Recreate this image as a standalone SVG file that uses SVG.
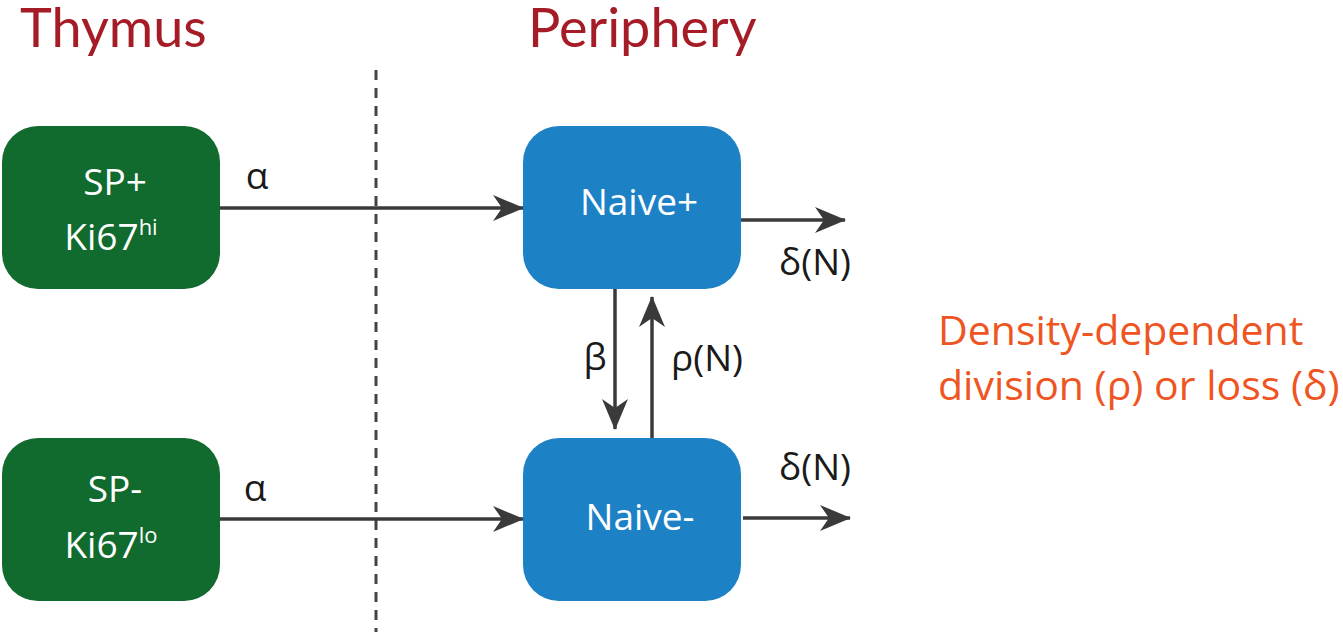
<svg xmlns="http://www.w3.org/2000/svg" width="1343" height="633" viewBox="0 0 1343 633">
<defs>
<marker id="ah" markerUnits="userSpaceOnUse" markerWidth="32" markerHeight="28" viewBox="0 0 32 28" refX="30" refY="14" orient="auto">
<path d="M0,1 L31,14 L0,27 L9,14 Z" fill="#3a3a3a"/>
</marker>
</defs>
<style>
.title{font-family:Lato,"Open Sans",sans-serif;font-size:54px;fill:#A51C26}
.green{fill:#116A2E}
.blue{fill:#1D81C6}
.nt{font-family:"Open Sans","Noto Sans",sans-serif;font-size:37px;fill:#ffffff;text-anchor:middle}
.sup{font-size:22px}
.lbl{font-family:"Open Sans","Noto Sans",sans-serif;font-size:37px;fill:#1a1a1a;text-anchor:middle}
.note{font-family:"Open Sans","Noto Sans",sans-serif;font-size:41px;fill:#EE5522}
.conn{stroke:#3a3a3a;stroke-width:3.5;fill:none}
</style>
<rect width="1343" height="633" fill="#ffffff"/>
<text class="title" x="20" y="47">Thymus</text>
<text class="title" x="528" y="47">Periphery</text>
<line x1="376" y1="70" x2="376" y2="632" stroke="#444" stroke-width="3" stroke-dasharray="10,8"/>
<g id="sp-plus">
<rect class="green" x="2" y="126" width="218" height="163" rx="36"/>
<text class="nt" x="115" y="195">SP+</text>
<text class="nt" x="111" y="250">Ki67<tspan class="sup" dy="-15">hi</tspan></text>
</g>
<g id="sp-minus">
<rect class="green" x="2" y="438" width="218" height="163" rx="36"/>
<text class="nt" x="115" y="502">SP-</text>
<text class="nt" x="111" y="558">Ki67<tspan class="sup" dy="-15">lo</tspan></text>
</g>
<g id="naive-plus">
<rect class="blue" x="523" y="126" width="218" height="163" rx="36"/>
<text class="nt" x="639" y="215">Naive+</text>
</g>
<g id="naive-minus">
<rect class="blue" x="523" y="438" width="218" height="163" rx="36"/>
<text class="nt" x="640" y="530">Naive-</text>
</g>
<g id="connectors">
<line class="conn" x1="220" y1="208" x2="523" y2="208" marker-end="url(#ah)"/>
<line class="conn" x1="220" y1="519" x2="523" y2="519" marker-end="url(#ah)"/>
<line class="conn" x1="741" y1="220" x2="845" y2="220" marker-end="url(#ah)"/>
<line class="conn" x1="743" y1="518" x2="850" y2="518" marker-end="url(#ah)"/>
<line class="conn" x1="615" y1="289" x2="615" y2="429" marker-end="url(#ah)"/>
<line class="conn" x1="652" y1="438" x2="652" y2="297" marker-end="url(#ah)"/>
</g>
<g id="labels">
<text class="lbl" x="257" y="189">α</text>
<text class="lbl" x="255" y="501">α</text>
<text class="lbl" x="815" y="275">δ(N)</text>
<text class="lbl" x="815" y="480">δ(N)</text>
<text class="lbl" x="595" y="370">β</text>
<text class="lbl" x="707" y="371">ρ(N)</text>
</g>
<g id="note">
<text class="note" x="938" y="345">Density-dependent</text>
<text class="note" x="938" y="400">division (ρ) or loss (δ)</text>
</g>
</svg>
